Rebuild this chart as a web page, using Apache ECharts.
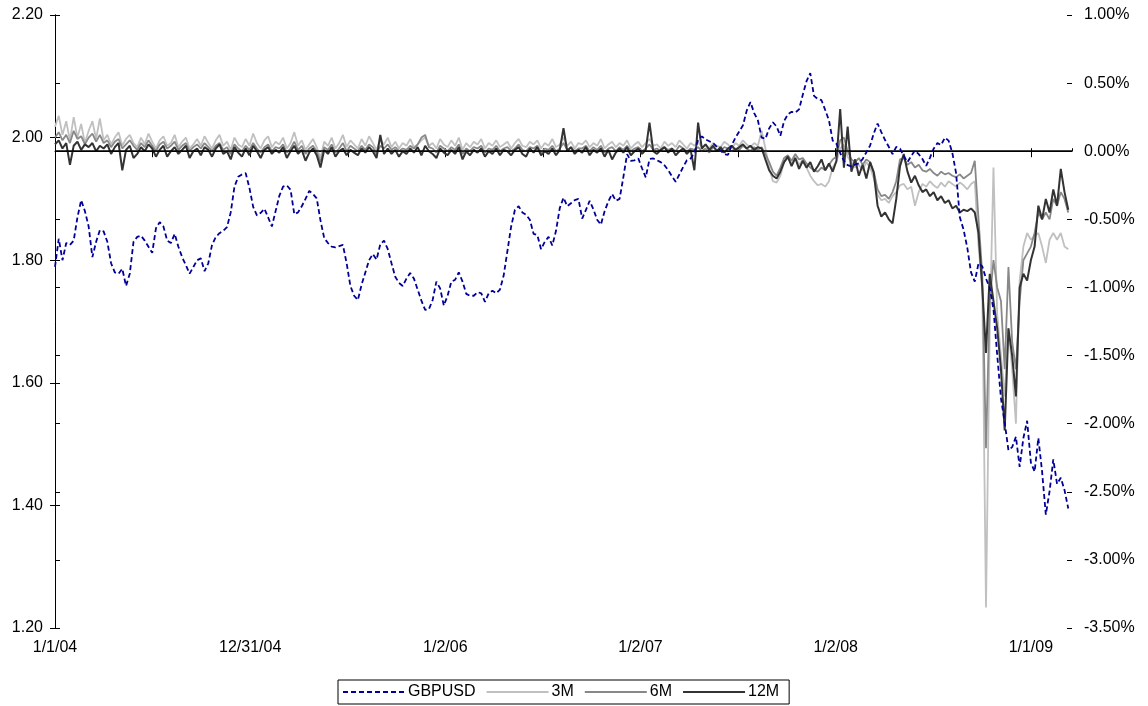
<!DOCTYPE html>
<html><head><meta charset="utf-8">
<script src="https://cdn.jsdelivr.net/npm/echarts@6/dist/echarts.min.js"></script>
<style>html,body{margin:0;padding:0;background:#fff}#c{width:1148px;height:706px}</style>
</head><body><div id="c"></div><script>
// x axis: business-day index from 1/1/04; labels every 261 business days
const xTickLabels = ['1/1/04','12/31/04','1/2/06','1/2/07','1/2/08','1/1/09'];
const DAYS_PER_LABEL = 261;
const LAST_DAY = 1360;
const SAMPLE_STEP = 5; // one reading per week (5 business days)
const seriesNames = ['GBPUSD','3M','6M','12M'];

// GBPUSD spot (left axis)
const gbpusd = [
1.789,1.835,1.800,1.828,1.825,1.832,1.870,1.898,1.880,1.855,
1.805,1.830,1.849,1.847,1.830,1.795,1.780,1.778,1.786,1.758,
1.778,1.830,1.838,1.840,1.832,1.822,1.812,1.852,1.862,1.855,
1.832,1.828,1.843,1.822,1.805,1.792,1.778,1.789,1.800,1.803,
1.782,1.795,1.825,1.838,1.844,1.848,1.854,1.878,1.920,1.936,
1.940,1.942,1.918,1.887,1.873,1.877,1.884,1.870,1.855,1.880,
1.905,1.920,1.922,1.915,1.875,1.878,1.888,1.900,1.913,1.908,
1.901,1.865,1.836,1.828,1.822,1.821,1.823,1.825,1.795,1.758,
1.742,1.735,1.760,1.780,1.800,1.810,1.801,1.826,1.832,1.818,
1.795,1.773,1.763,1.758,1.770,1.779,1.770,1.752,1.734,1.719,
1.720,1.735,1.765,1.754,1.726,1.742,1.765,1.768,1.780,1.765,
1.745,1.742,1.742,1.748,1.746,1.732,1.746,1.750,1.746,1.752,
1.775,1.815,1.855,1.882,1.888,1.878,1.874,1.866,1.843,1.841,
1.818,1.830,1.838,1.824,1.848,1.885,1.902,1.888,1.893,1.898,
1.900,1.868,1.882,1.897,1.883,1.866,1.858,1.880,1.896,1.908,
1.897,1.900,1.935,1.973,1.962,1.963,1.966,1.950,1.935,1.965,
1.966,1.963,1.960,1.955,1.947,1.937,1.928,1.940,1.952,1.963,
1.966,1.975,1.997,2.002,1.997,1.994,1.991,1.985,1.979,1.973,
1.972,1.988,2.000,2.010,2.020,2.044,2.058,2.040,2.028,2.000,
1.998,2.015,2.025,2.018,2.003,2.027,2.038,2.042,2.041,2.046,
2.070,2.092,2.105,2.068,2.063,2.061,2.045,2.028,1.995,1.990,
1.975,1.962,1.955,1.953,1.956,1.958,1.965,1.976,1.987,2.007,
2.023,2.009,1.996,1.985,1.973,1.985,1.982,1.970,1.960,1.970,
1.979,1.973,1.965,1.954,1.967,1.982,1.991,1.988,2.000,1.995,
1.975,1.942,1.870,1.850,1.820,1.780,1.765,1.795,1.790,1.770,
1.755,1.720,1.645,1.575,1.535,1.490,1.495,1.512,1.463,1.510,
1.538,1.470,1.455,1.510,1.455,1.385,1.423,1.475,1.435,1.445,
1.425,1.395];

// basis, % (right axis)
const basis3M = [
0.18,0.26,0.12,0.22,0.08,0.25,0.10,0.20,0.06,0.15,
0.22,0.09,0.24,0.08,0.12,0.05,0.10,0.14,0.04,0.09,
0.12,0.06,0.03,0.10,0.05,0.13,0.07,0.02,0.08,0.11,
0.04,0.06,0.12,0.03,0.07,0.10,0.02,0.05,0.09,0.04,
0.11,0.06,0.02,0.08,0.12,0.04,0.07,0.01,0.10,0.05,
0.03,0.09,0.04,0.13,0.06,0.02,0.08,0.11,0.03,0.07,
0.05,0.10,0.02,0.06,0.14,0.04,0.08,0.01,0.05,0.09,
0.03,-0.05,0.07,0.04,0.10,0.02,0.06,0.12,0.03,0.08,
0.05,0.02,0.09,0.04,0.11,0.06,0.01,0.08,0.05,0.10,
0.03,0.07,0.02,0.06,0.04,0.09,0.03,0.05,0.08,0.10,
0.04,0.06,0.02,0.09,0.05,0.03,0.08,0.04,0.10,0.01,
0.06,0.03,0.07,0.05,0.09,0.02,0.06,0.04,0.08,0.03,
0.05,0.07,0.02,0.06,0.09,0.04,0.03,0.07,0.05,0.08,
0.02,0.06,0.04,0.09,0.03,0.05,0.10,0.04,0.07,0.02,
0.06,0.05,0.08,0.03,0.06,0.04,0.09,0.02,0.05,0.07,
0.03,0.06,0.04,0.08,0.02,0.05,0.07,0.03,0.06,0.09,
0.04,0.05,0.02,0.07,0.04,0.06,0.03,0.08,0.05,0.02,
0.06,0.04,0.07,0.03,0.05,0.02,0.06,0.04,0.03,0.07,
0.05,0.02,0.06,0.04,0.08,0.05,0.03,0.06,0.04,0.15,
0.02,-0.12,-0.22,-0.23,-0.18,-0.08,-0.05,-0.09,-0.04,-0.10,
-0.06,-0.12,-0.18,-0.22,-0.25,-0.24,-0.26,-0.22,-0.12,-0.08,
0.02,0.05,-0.04,-0.08,-0.12,-0.10,-0.14,-0.08,-0.12,-0.20,
-0.32,-0.36,-0.35,-0.38,-0.33,-0.30,-0.25,-0.24,-0.28,-0.26,
-0.40,-0.30,-0.24,-0.26,-0.22,-0.25,-0.27,-0.23,-0.26,-0.22,
-0.24,-0.26,-0.23,-0.25,-0.28,-0.24,-0.22,-0.70,-1.00,-3.35,
-1.30,-0.12,-1.20,-1.50,-1.80,-1.30,-1.60,-2.00,-0.95,-0.70,
-0.60,-0.65,-0.62,-0.60,-0.70,-0.82,-0.65,-0.60,-0.65,-0.60,
-0.70,-0.72];

const basis6M = [
0.10,0.14,0.08,0.12,0.06,0.15,0.09,0.11,0.05,0.10,
0.13,0.07,0.12,0.06,0.08,0.03,0.07,0.09,0.02,0.05,
0.08,0.04,0.01,0.06,0.03,0.08,0.04,0.00,0.05,0.07,
0.02,0.04,0.07,0.01,0.04,0.06,0.00,0.03,0.05,0.02,
0.06,0.03,0.00,0.04,0.06,0.01,0.03,-0.02,0.05,0.02,
0.00,0.04,0.01,0.06,0.02,-0.01,0.03,0.05,0.00,0.03,
0.02,0.05,-0.01,0.02,0.07,0.01,0.04,-0.02,0.02,0.04,
0.00,-0.08,0.03,0.01,0.05,-0.01,0.02,0.06,0.00,0.04,
0.02,0.00,0.04,0.01,0.05,0.03,-0.02,0.04,0.02,0.05,
0.01,0.03,0.00,0.02,0.01,0.04,0.02,0.05,0.10,0.12,
0.03,0.02,-0.01,0.04,0.02,0.00,0.03,0.01,0.05,-0.02,
0.02,0.00,0.03,0.02,0.04,-0.01,0.02,0.01,0.04,0.00,
0.02,0.03,0.00,0.02,0.05,0.01,0.00,0.03,0.02,0.04,
-0.01,0.02,0.01,0.04,0.00,0.02,0.06,0.01,0.03,0.00,
0.02,0.02,0.04,0.00,0.03,0.01,0.04,-0.01,0.02,0.03,
0.00,0.03,0.01,0.04,0.00,0.02,0.03,0.00,0.02,0.05,
0.01,0.02,0.00,0.03,0.01,0.02,0.00,0.04,0.02,0.00,
0.02,0.01,0.03,0.00,0.02,-0.01,0.03,0.01,0.00,0.03,
0.02,0.00,0.02,0.01,0.04,0.02,0.00,0.03,0.01,0.03,
-0.02,-0.08,-0.15,-0.18,-0.12,-0.05,-0.03,-0.07,-0.02,-0.06,
-0.05,-0.09,-0.12,-0.14,-0.15,-0.12,-0.14,-0.10,-0.06,-0.04,
0.08,0.10,0.00,-0.06,-0.08,-0.05,-0.10,-0.06,-0.08,-0.15,
-0.28,-0.33,-0.32,-0.35,-0.30,-0.22,-0.06,-0.05,-0.10,-0.08,
-0.12,-0.10,-0.14,-0.15,-0.13,-0.16,-0.18,-0.15,-0.17,-0.16,
-0.18,-0.19,-0.17,-0.20,-0.18,-0.16,-0.07,-0.50,-0.90,-2.18,
-1.10,-0.80,-1.00,-1.10,-1.60,-0.85,-1.40,-1.60,-1.10,-0.80,
-0.75,-0.70,-0.60,-0.45,-0.50,-0.45,-0.50,-0.35,-0.40,-0.30,
-0.35,-0.45];

const basis12M = [
0.05,0.08,0.02,0.06,-0.10,0.04,0.07,0.01,0.05,0.03,
0.06,0.00,0.04,0.02,0.05,-0.02,0.03,0.06,-0.14,0.01,
0.04,-0.05,-0.02,0.03,0.00,0.05,0.02,-0.04,0.01,0.04,
-0.04,0.00,0.03,-0.02,0.01,0.04,-0.05,0.00,0.02,-0.03,
0.03,0.01,-0.04,0.02,0.05,-0.02,0.00,-0.06,0.03,-0.01,
-0.04,0.02,-0.03,0.04,0.00,-0.05,0.01,0.03,-0.02,0.01,
-0.01,0.03,-0.05,0.00,0.04,-0.02,0.01,-0.07,-0.01,0.02,
-0.03,-0.12,0.01,-0.02,0.03,-0.04,0.00,0.02,-0.03,0.01,
-0.01,-0.03,0.02,-0.01,0.03,0.00,-0.05,0.12,-0.02,0.02,
-0.02,0.01,-0.04,0.00,-0.02,0.02,-0.01,0.03,-0.03,0.04,
0.00,-0.02,-0.05,0.02,-0.01,-0.03,0.01,-0.02,0.03,-0.06,
0.00,-0.03,0.01,-0.01,0.02,-0.04,0.00,-0.02,0.02,-0.03,
0.01,0.00,-0.03,0.01,0.03,-0.02,-0.04,0.02,-0.01,0.03,
-0.03,0.00,-0.02,0.02,-0.03,0.01,0.17,0.00,0.03,-0.02,
0.01,-0.01,0.03,-0.03,0.01,-0.01,0.02,-0.04,0.01,-0.06,
-0.01,0.02,-0.01,0.03,-0.03,0.00,0.02,-0.02,0.01,0.21,
0.00,-0.02,0.01,0.03,-0.01,0.02,-0.03,0.00,0.02,-0.02,
0.01,-0.14,0.21,0.02,0.05,0.01,0.04,0.00,0.03,-0.01,
0.02,0.04,0.01,0.03,0.05,0.02,0.04,0.01,0.03,0.02,
-0.06,-0.14,-0.18,-0.20,-0.15,-0.08,-0.04,-0.11,-0.05,-0.13,
-0.07,-0.12,-0.08,-0.15,-0.11,-0.06,-0.14,-0.09,-0.15,-0.07,
0.31,-0.12,0.18,-0.15,-0.06,-0.18,-0.10,-0.20,-0.08,-0.16,
-0.40,-0.48,-0.45,-0.50,-0.53,-0.35,-0.11,-0.02,-0.15,-0.23,
-0.18,-0.25,-0.30,-0.28,-0.33,-0.30,-0.36,-0.33,-0.38,-0.36,
-0.42,-0.40,-0.45,-0.43,-0.44,-0.42,-0.45,-0.60,-1.00,-1.48,
-0.90,-1.10,-1.30,-1.60,-2.05,-1.30,-1.50,-1.80,-1.00,-0.90,
-0.95,-0.80,-0.70,-0.40,-0.50,-0.35,-0.45,-0.28,-0.40,-0.13,
-0.30,-0.43];

const toPairs = arr => arr.map((v, i) => [i * SAMPLE_STEP, v]);
const FONT = 'Arial, "Liberation Sans", sans-serif';
const axisLineStyle = { color: '#000', width: 1 };
const labelStyle = { color: '#000', fontSize: 16, fontFamily: FONT };

const xLabelFmt = v => {
  const r = v / DAYS_PER_LABEL;
  const n = Math.round(r);
  return (Math.abs(r - n) < 1e-6 && xTickLabels[n] !== undefined) ? xTickLabels[n] : '';
};

const chart = echarts.init(document.getElementById('c'), null, { renderer: 'canvas' });
chart.setOption({
  animation: false,
  backgroundColor: '#fff',
  grid: { left: 55, right: 76, top: 15, bottom: 78, containLabel: false },
  legend: {
    data: seriesNames,
    left: 338, top: 680,
    itemWidth: 62, itemHeight: 12, itemGap: 10,
    padding: [4, 10, 4, 4],
    borderColor: '#000', borderWidth: 1,
    itemStyle: { opacity: 0, borderWidth: 0 },
    textStyle: { color: '#000', fontSize: 16, fontFamily: FONT, padding: [0, 0, 0, -2] }
  },
  xAxis: [
    { type: 'value', min: 0, max: LAST_DAY, interval: DAYS_PER_LABEL / 2, position: 'bottom',
      axisLine: { lineStyle: axisLineStyle },
      axisTick: { show: true, length: 6, lineStyle: axisLineStyle },
      axisLabel: Object.assign({ margin: 12, formatter: xLabelFmt, showMaxLabel: false }, labelStyle),
      splitLine: { show: false } },
    { type: 'value', min: 0, max: LAST_DAY, interval: DAYS_PER_LABEL / 2, position: 'bottom',
      axisLine: { show: false },
      axisTick: { show: true, inside: true, length: 3, lineStyle: axisLineStyle },
      axisLabel: { show: false }, splitLine: { show: false } }
  ],
  yAxis: [
    { type: 'value', min: 1.2, max: 2.2, interval: 0.2, position: 'left',
      axisLine: { show: true, lineStyle: axisLineStyle },
      axisTick: { show: true, length: 5, lineStyle: axisLineStyle },
      axisLabel: Object.assign({ margin: 12, formatter: v => v.toFixed(2) }, labelStyle),
      splitLine: { show: false } },
    { type: 'value', min: -3.5, max: 1.0, interval: 0.5, position: 'right', alignTicks: false,
      axisLine: { show: true, lineStyle: axisLineStyle },
      axisTick: { show: true, length: 5, lineStyle: axisLineStyle },
      axisLabel: Object.assign({ margin: 12, formatter: v => v.toFixed(2) + '%' }, labelStyle),
      splitLine: { show: false } },
    { type: 'value', min: 1.2, max: 2.2, interval: 0.2, position: 'left',
      axisLine: { show: false },
      axisTick: { show: true, inside: true, length: 5, lineStyle: axisLineStyle },
      axisLabel: { show: false }, splitLine: { show: false } },
    { type: 'value', min: -3.5, max: 1.0, interval: 0.5, position: 'right',
      axisLine: { show: false },
      axisTick: { show: true, inside: true, length: 5, lineStyle: axisLineStyle },
      axisLabel: { show: false }, splitLine: { show: false } }
  ],
  series: [
    { name: '3M', type: 'line', yAxisIndex: 1, data: toPairs(basis3M), symbol: 'none',
      lineStyle: { color: '#c0c0c0', width: 1.8 }, itemStyle: { color: '#c0c0c0' }, z: 2 },
    { name: '6M', type: 'line', yAxisIndex: 1, data: toPairs(basis6M), symbol: 'none',
      lineStyle: { color: '#888888', width: 1.8 }, itemStyle: { color: '#888888' }, z: 3 },
    { name: '12M', type: 'line', yAxisIndex: 1, data: toPairs(basis12M), symbol: 'none',
      lineStyle: { color: '#333333', width: 2 }, itemStyle: { color: '#333333' }, z: 4,
      markLine: { silent: true, symbol: ['none', 'none'], label: { show: false },
        lineStyle: { color: '#000', width: 1.5, type: 'solid' }, data: [{ yAxis: 0 }] } },
    { name: 'GBPUSD', type: 'line', yAxisIndex: 0, data: toPairs(gbpusd), symbol: 'none',
      lineStyle: { color: '#000099', width: 1.8, type: [5, 3] }, itemStyle: { color: '#000099' }, z: 5 }
  ]
});
</script></body></html>
